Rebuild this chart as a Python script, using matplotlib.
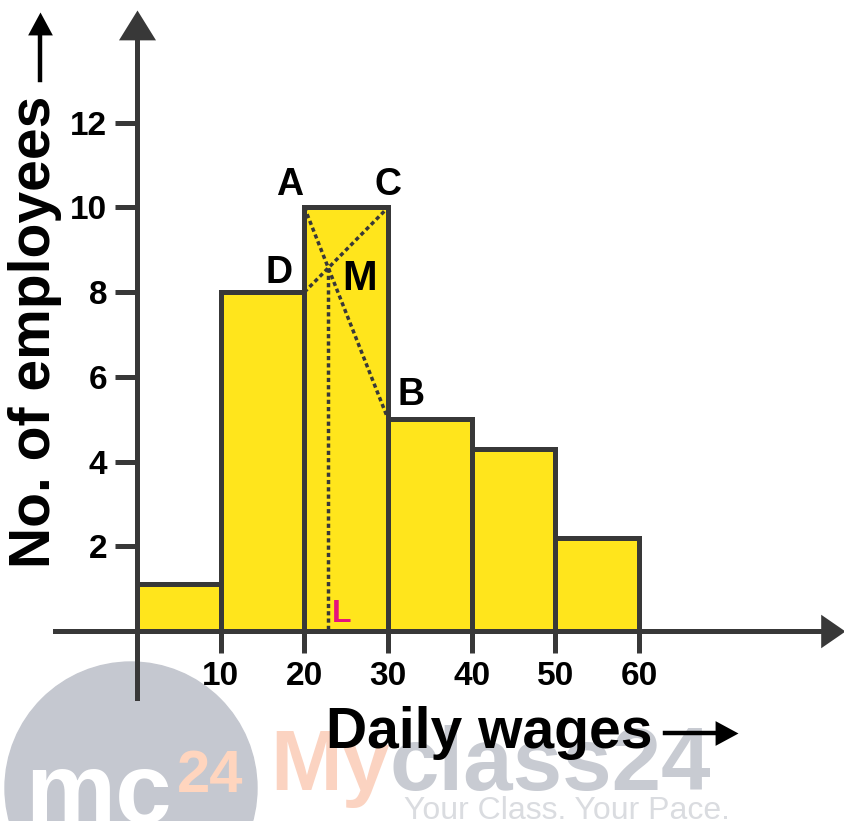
import numpy as np
import matplotlib.pyplot as plt
from matplotlib.patches import Circle

# daily wages classes and number of employees (histogram)
wage_edges = [0, 10, 20, 30, 40, 50, 60]
employees = [1.1, 8, 10, 5, 4.3, 2.2]
xticks = [10, 20, 30, 40, 50, 60]
yticks = [2, 4, 6, 8, 10, 12]

W, H = 845, 821
yellow = '#FFE51C'
dark = '#383838'

plt.rcParams['font.family'] = ['Liberation Sans', 'DejaVu Sans']

fig = plt.figure(figsize=(W / 100, H / 100), dpi=100)
ax = fig.add_axes([0, 0, 1, 1])
ax.patch.set_visible(False)

# picture layout: origin sits at pixel (137, 631)
x0_px, y0_px = 137, 631
sx, sy = 8.37, 42.36
ax.set_xlim(-x0_px / sx, (W - x0_px) / sx)
ax.set_ylim(-(H - y0_px) / sy, y0_px / sy)


def d(px, py):
    # image pixel (from top-left) -> data coords
    return (px - x0_px) / sx, (y0_px - py) / sy


def fx(px):
    return px / W


def fy(py):
    return 1 - py / H


up_tri = [(0, 0), (-0.62, -1), (0.62, -1), (0, 0)]
right_tri = [(0, 0), (-1, 0.69), (-1, -0.69), (0, 0)]

# bars
lefts = np.array(wage_edges[:-1])
widths = np.diff(wage_edges)
ax.bar(lefts, employees, width=widths, align='edge', color=yellow,
       edgecolor=dark, linewidth=3.6, zorder=1)

# axes lines with arrow heads
for side in ['top', 'right']:
    ax.spines[side].set_visible(False)
for side in ['left', 'bottom']:
    ax.spines[side].set_position(('data', 0))
    ax.spines[side].set_linewidth(3.6)
    ax.spines[side].set_color(dark)
ax.spines['left'].set_bounds(d(0, 698)[1], d(0, 36)[1])
ax.spines['bottom'].set_bounds(d(55, 0)[0], d(826, 0)[0])
ax.plot(0, d(0, 10)[1], marker=up_tri, ms=43, color=dark, mew=0, clip_on=False, zorder=4)
ax.plot(d(845, 0)[0], 0, marker=right_tri, ms=35, color=dark, mew=0, clip_on=False, zorder=4)

ax.set_xticks(xticks)
ax.set_yticks(yticks)
ax.tick_params(direction='out', length=15.5, width=3.6, color=dark, pad=5.8,
               labelsize=24)
plt.setp(ax.get_xticklabels() + ax.get_yticklabels(), fontweight='bold')

# mode construction: A-B and D-C diagonals, M their crossing, L below M
xa, xc = wage_edges[2], wage_edges[3]
A = (xa, employees[2])
C = (xc, employees[2])
D = (xa, employees[1])
B = (xc, employees[3])
s1 = (B[1] - A[1]) / (xc - xa)
s2 = (C[1] - D[1]) / (xc - xa)
xm = xa + (D[1] - A[1]) / (s1 - s2)
ym = A[1] + s1 * (xm - xa)
dots = dict(color=dark, lw=2.5, ls=(0, (1.2, 0.9)), zorder=3)
ax.plot([A[0], B[0]], [A[1], B[1]], **dots)
ax.plot([D[0], C[0]], [D[1], C[1]], **dots)
ax.plot([xm, xm], [ym, 0], **dots)

lab = dict(textcoords='offset points', ha='center', va='baseline',
           fontweight='bold', zorder=5)
ax.annotate('A', A, xytext=(-10.4, 8.9), fontsize=27, **lab)
ax.annotate('C', C, xytext=(0, 8.9), fontsize=27, **lab)
ax.annotate('D', D, xytext=(-18.3, 6.6), fontsize=27, **lab)
ax.annotate('M', (xm, ym), xytext=(22.8, -15.9), fontsize=30, **lab)
ax.annotate('B', B, xytext=(16.5, 10.2), fontsize=27, **lab)
ax.annotate('L', (xm, 0), xytext=(9.5, 6.5), fontsize=23, color='#E5127D', **lab)

# axis titles with arrows
fig.text(fx(50), fy(332), 'No. of employees', rotation=90, rotation_mode='anchor',
         ha='center', va='baseline', fontsize=41, fontweight='bold')
ax.plot(*zip(d(39.5, 80), d(39.5, 32)), color='black', lw=3.2, clip_on=False)
ax.plot(*d(39.5, 12), marker=[(0, 0), (-0.54, -1), (0.54, -1), (0, 0)], ms=33,
        color='black', mew=0, clip_on=False)

fig.text(fx(326), fy(748), 'Daily wages', ha='left', va='baseline',
         fontsize=41, fontweight='bold')
ax.plot(*zip(d(665, 733), d(716, 733)), color='black', lw=3.2, clip_on=False)
ax.plot(*d(738, 733), marker=[(0, 0), (-1, 0.54), (-1, -0.54), (0, 0)], ms=33,
        color='black', mew=0, clip_on=False)

# watermark
fig.add_artist(Circle((131 / 100, (H - 788) / 100), 1.26, transform=fig.dpi_scale_trans,
                      color='#C5C8D0', zorder=-2))
wm = dict(va='baseline', zorder=-1)
fig.text(fx(25), fy(823), 'mc', fontsize=73, fontweight='bold', color='white', ha='left', **wm)
fig.text(fx(177), fy(792), '24', fontsize=43, fontweight='bold', color='#FFD5BE', ha='left', **wm)
fig.text(fx(390), fy(790), 'My', fontsize=62, fontweight='bold', color='#FBD3C1', ha='right', **wm)
fig.text(fx(390), fy(790), 'class24', fontsize=64, fontweight='bold', color='#C8CBD2',
         ha='left', **wm)
fig.text(fx(730), fy(819), 'Your Class. Your Pace.', fontsize=23, color='#DADCE0',
         ha='right', **wm)

fig.savefig('out.png', dpi=100)
